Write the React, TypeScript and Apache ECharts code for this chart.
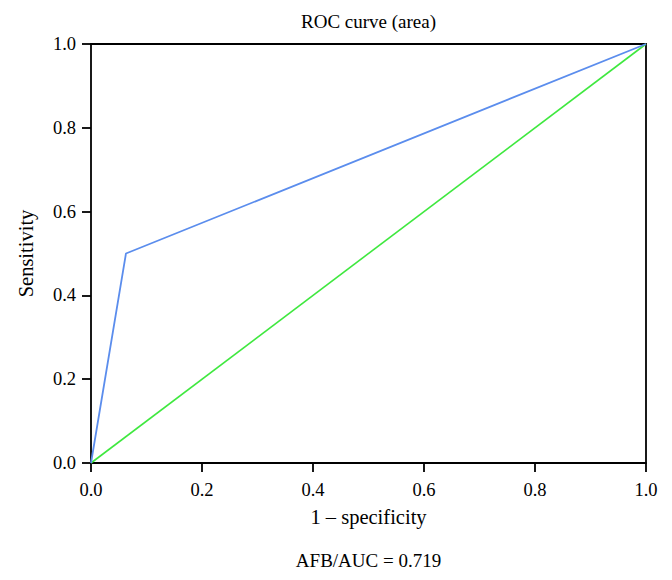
import React, { useEffect, useRef } from "react";
import * as echarts from "echarts";

const rocFpr = [0, 0.063, 1];
const rocTpr = [0, 0.5, 1];
const refFpr = [0, 1];
const refTpr = [0, 1];
const titleText = "ROC curve (area)";
const xName = "1 – specificity";
const yName = "Sensitivity";
const footText = "AFB/AUC = 0.719";

const FONT = "'Liberation Serif', 'DejaVu Serif', serif";

export default function App() {
  const ref = useRef<HTMLDivElement>(null);
  useEffect(() => {
    if (!ref.current) return;
    const chart = echarts.init(ref.current, null, { renderer: "svg" });
    const lineStyle = { color: "#000", width: 1.8 };
    const axisCommon = {
      type: "value" as const,
      min: 0,
      max: 1,
      interval: 0.2,
      splitLine: { show: false },
      axisLine: { show: true, onZero: false, lineStyle },
      axisTick: { show: true, inside: false, length: 9, lineStyle },
      axisLabel: {
        color: "#000",
        fontFamily: FONT,
        fontSize: 18.5,
        formatter: (v: number) => v.toFixed(1),
      },
      nameTextStyle: { color: "#000", fontFamily: FONT, fontSize: 20.5 },
    };
    chart.setOption({
      animation: false,
      backgroundColor: "#fff",
      grid: { left: 91, right: 26, top: 44, bottom: 117, show: false },
      xAxis: [
        {
          ...axisCommon,
          position: "bottom",
          name: xName,
          nameLocation: "middle",
          nameGap: 43,
          axisLabel: { ...axisCommon.axisLabel, margin: 17 },
        },
        {
          type: "value",
          min: 0,
          max: 1,
          position: "top",
          splitLine: { show: false },
          axisLine: { show: true, onZero: false, lineStyle },
          axisTick: { show: false },
          axisLabel: { show: false },
        },
      ],
      yAxis: [
        {
          ...axisCommon,
          position: "left",
          name: yName,
          nameLocation: "middle",
          nameGap: 55,
          axisLabel: { ...axisCommon.axisLabel, margin: 15 },
        },
        {
          type: "value",
          min: 0,
          max: 1,
          position: "right",
          splitLine: { show: false },
          axisLine: { show: true, onZero: false, lineStyle },
          axisTick: { show: false },
          axisLabel: { show: false },
        },
      ],
      graphic: [
        {
          type: "text",
          x: 368.5,
          y: 21,
          style: {
            text: titleText,
            fill: "#000",
            font: `19px ${FONT}`,
            textAlign: "center",
            textVerticalAlign: "middle",
          },
        },
        {
          type: "text",
          x: 368.5,
          y: 560,
          style: {
            text: footText,
            fill: "#000",
            font: `19px ${FONT}`,
            textAlign: "center",
            textVerticalAlign: "middle",
          },
        },
      ],
      series: [
        {
          type: "line",
          xAxisIndex: 0,
          yAxisIndex: 0,
          data: refFpr.map((x, i) => [x, refTpr[i]]),
          symbol: "none",
          lineStyle: { color: "#3fe83f", width: 1.6 },
        },
        {
          type: "line",
          xAxisIndex: 0,
          yAxisIndex: 0,
          data: rocFpr.map((x, i) => [x, rocTpr[i]]),
          symbol: "none",
          lineStyle: { color: "#5b8ded", width: 1.8 },
        },
      ],
    });
    return () => chart.dispose();
  }, []);
  return (
    <div
      ref={ref}
      style={{ position: "fixed", left: 0, top: 0, width: 672, height: 580 }}
    />
  );
}
